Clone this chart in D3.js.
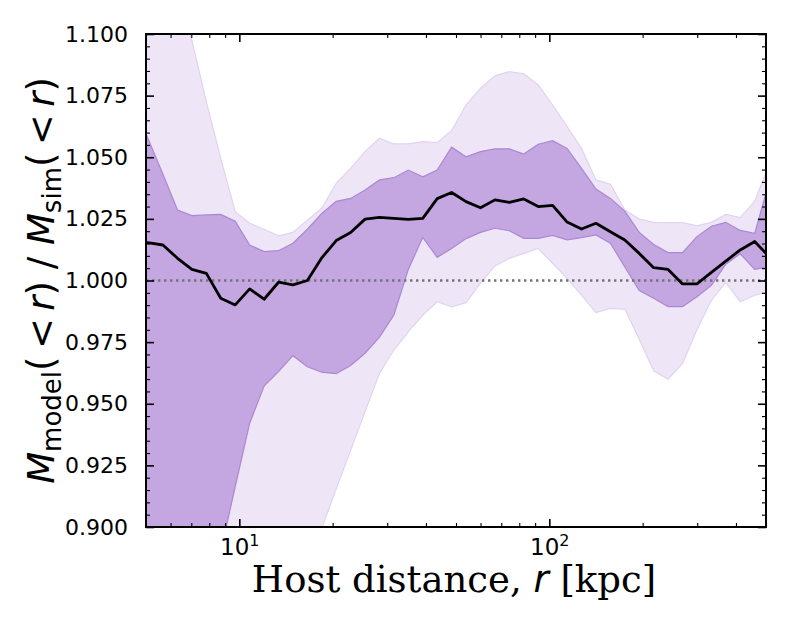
<!DOCTYPE html>
<html>
<head>
<meta charset="utf-8">
<script src="https://cdn.jsdelivr.net/npm/d3@7"></script>
<style>
body { margin: 0; background: #fff; }
</style>
</head>
<body>
<svg id="chart" width="789" height="631"></svg>
<script>
// host distance of each bin [kpc]
var radius = [5.0, 5.67, 6.32, 7.03, 7.83, 8.71, 9.70, 10.80, 12.02, 13.38, 14.89, 16.58,
    18.45, 20.54, 22.86, 25.45, 28.33, 31.52, 35.09, 39.06, 43.48, 48.40, 53.87, 59.98,
    66.76, 74.32, 82.72, 92.08, 102.5, 114.1, 127.0, 141.4, 157.4, 175.2, 195.0, 217.1,
    241.6, 269.0, 299.4, 333.3, 371.0, 413.0, 459.7, 511.7];

// median ratio M_model / M_sim
var ratioMid = [1.0155, 1.0144, 1.0090, 1.0045, 1.0029, 0.9928, 0.9901, 0.9966, 0.9924, 0.9993,
    0.9982, 1.0000, 1.0092, 1.0162, 1.0195, 1.0249, 1.0256, 1.0252, 1.0248, 1.0252, 1.0332,
    1.0357, 1.0320, 1.0295, 1.0327, 1.0317, 1.0331, 1.0300, 1.0305, 1.0237, 1.0209, 1.0232,
    1.0198, 1.0164, 1.0110, 1.0052, 1.0045, 0.9986, 0.9986, 1.0033, 1.0079, 1.0124, 1.0158,
    1.0097];

// inner band (dark)
var innerHi = [1.0595, 1.0431, 1.0286, 1.0263, 1.0266, 1.0268, 1.0241, 1.0144, 1.0117, 1.0121,
    1.0151, 1.0208, 1.0272, 1.0321, 1.0333, 1.0367, 1.0408, 1.0417, 1.0448, 1.0421, 1.0448,
    1.0541, 1.0502, 1.0523, 1.0534, 1.0534, 1.0513, 1.0553, 1.0567, 1.0536, 1.0455, 1.0371,
    1.0333, 1.0281, 1.0195, 1.0146, 1.0113, 1.0113, 1.0178, 1.0220, 1.0236, 1.0203, 1.0191,
    1.0400];
var innerLo = [0.800, 0.820, 0.840, 0.850, 0.860, 0.890, 0.9164, 0.9421, 0.9572, 0.9630,
    0.9695, 0.9650, 0.9628, 0.9622, 0.9655, 0.9705, 0.9770, 0.9860, 1.0045, 1.0175, 1.0094,
    1.0130, 1.0170, 1.0195, 1.0212, 1.0202, 1.0171, 1.0171, 1.0183, 1.0165, 1.0174, 1.0185,
    1.0151, 1.0055, 0.9959, 0.9928, 0.9894, 0.9894, 0.9934, 0.9980, 1.0066, 1.0108, 1.0045,
    1.0056];

// outer band (light)
var outerHi = [1.160, 1.140, 1.115, 1.0974, 1.0725, 1.0495, 1.0279, 1.0232, 1.0208, 1.0181,
    1.0195, 1.0245, 1.0293, 1.0394, 1.0455, 1.0523, 1.0577, 1.0554, 1.0554, 1.0563, 1.0559,
    1.0608, 1.0712, 1.0780, 1.0830, 1.0847, 1.0838, 1.0793, 1.0712, 1.0624, 1.0536, 1.0408,
    1.0390, 1.0286, 1.0249, 1.0236, 1.0235, 1.0235, 1.0222, 1.0236, 1.0268, 1.0255, 1.0322,
    1.0469];
var outerLo = [0.700, 0.720, 0.740, 0.760, 0.780, 0.800, 0.820, 0.836, 0.852, 0.868, 0.868,
    0.884, 0.8995, 0.9155, 0.9311, 0.9468, 0.9624, 0.9718, 0.9792, 0.9860, 0.9914, 0.9893,
    0.9910, 0.9989, 1.0059, 1.0090, 1.0110, 1.0130, 1.0070, 1.0009, 0.9941, 0.9870, 0.9887,
    0.9884, 0.9762, 0.9634, 0.9599, 0.9664, 0.9800, 0.9920, 0.9992, 0.9914, 0.9940, 0.9955];

var yMajor = [0.900, 0.925, 0.950, 0.975, 1.000, 1.025, 1.050, 1.075, 1.100];
var xMajor = [10, 100];
var xMinor = [5, 6, 7, 8, 9, 20, 30, 40, 50, 60, 70, 80, 90, 200, 300, 400, 500];

var padL = 146, padR = 766, padT = 34, padB = 527;

var svg = d3.select("#chart");

var x = d3.scaleLog().domain([5, 500]).range([padL, padR]);
var y = d3.scaleLinear().domain([0.9, 1.1]).range([padB, padT]);

var yMinor = d3.range(0.9, 1.1001, 0.005).filter(function (v) {
    return Math.abs(Math.round(v * 40) - v * 40) > 1e-6;
});

svg.append("defs").append("clipPath")
    .attr("id", "plotclip")
    .append("rect")
    .attr("x", padL).attr("y", padT)
    .attr("width", padR - padL).attr("height", padB - padT);

var rows = radius.map(function (r, i) {
    return {r: r, mid: ratioMid[i], ilo: innerLo[i], ihi: innerHi[i], olo: outerLo[i], ohi: outerHi[i]};
});

var plot = svg.append("g").attr("clip-path", "url(#plotclip)");

// outer band
plot.append("path")
    .datum(rows)
    .attr("fill", "#eee6f6")
    .attr("stroke", "#e1d3f0")
    .attr("stroke-width", 1.2)
    .attr("d", d3.area()
        .x(function (d) { return x(d.r); })
        .y0(function (d) { return y(d.olo); })
        .y1(function (d) { return y(d.ohi); }));

// inner band
plot.append("path")
    .datum(rows)
    .attr("fill", "#c4a6e0")
    .attr("stroke", "#aa88d5")
    .attr("stroke-width", 1.2)
    .attr("d", d3.area()
        .x(function (d) { return x(d.r); })
        .y0(function (d) { return y(d.ilo); })
        .y1(function (d) { return y(d.ihi); }));

// reference line at unity
plot.append("line")
    .attr("x1", padL).attr("x2", padR)
    .attr("y1", y(1)).attr("y2", y(1))
    .attr("stroke", "#737373")
    .attr("stroke-width", 2.4)
    .attr("stroke-dasharray", "2.4,3.6");

plot.append("path")
    .datum(rows)
    .attr("fill", "none")
    .attr("stroke", "#000")
    .attr("stroke-width", 2.8)
    .attr("stroke-linejoin", "round")
    .attr("d", d3.line()
        .x(function (d) { return x(d.r); })
        .y(function (d) { return y(d.mid); }));

// ticks, all pointing inward
function drawTicks(axisFn, scale, vals, size, pos) {
    var g = svg.append("g")
        .attr("transform", pos)
        .call(axisFn(scale).tickValues(vals).tickSize(-size).tickFormat(""));
    g.select(".domain").remove();
    g.selectAll(".tick line").attr("stroke", "#000").attr("stroke-width", size > 5 ? 1.6 : 1.1);
    return g;
}

drawTicks(d3.axisLeft, y, yMinor, 4, "translate(" + padL + ",0)");
drawTicks(d3.axisRight, y, yMinor, 4, "translate(" + padR + ",0)");
drawTicks(d3.axisRight, y, yMajor, 8, "translate(" + padR + ",0)");
drawTicks(d3.axisBottom, x, xMinor, 4, "translate(0," + padB + ")");
drawTicks(d3.axisTop, x, xMinor, 4, "translate(0," + padT + ")");
drawTicks(d3.axisTop, x, xMajor, 8, "translate(0," + padT + ")");

var yAxis = svg.append("g")
    .attr("transform", "translate(" + padL + ",0)")
    .call(d3.axisLeft(y).tickValues(yMajor).tickSize(-8).tickPadding(18)
        .tickFormat(d3.format(".3f")));
yAxis.select(".domain").remove();
yAxis.selectAll(".tick line").attr("stroke", "#000").attr("stroke-width", 1.6);
yAxis.selectAll(".tick text")
    .attr("fill", "#000")
    .style("font-family", "'DejaVu Sans', sans-serif")
    .style("font-size", "22px");

var xAxis = svg.append("g")
    .attr("transform", "translate(0," + padB + ")")
    .call(d3.axisBottom(x).tickValues(xMajor).tickSize(-8).tickFormat(""));
xAxis.select(".domain").remove();
xAxis.selectAll(".tick line").attr("stroke", "#000").attr("stroke-width", 1.6);
xAxis.selectAll(".tick").append("text")
    .attr("y", 28)
    .attr("text-anchor", "middle")
    .attr("fill", "#000")
    .style("font-family", "'DejaVu Sans', sans-serif")
    .style("font-size", "23px")
    .each(function (d) {
        var t = d3.select(this);
        t.append("tspan").text("10");
        t.append("tspan").attr("dy", -9).style("font-size", "16px")
            .text(Math.round(Math.log10(d)));
    });

// frame
svg.append("rect")
    .attr("x", padL).attr("y", padT)
    .attr("width", padR - padL).attr("height", padB - padT)
    .attr("fill", "none")
    .attr("stroke", "#000")
    .attr("stroke-width", 2);

// x label
var xl = svg.append("text")
    .attr("x", (padL + padR) / 2 - 2)
    .attr("y", 592)
    .attr("text-anchor", "middle")
    .style("font-family", "'DejaVu Serif', serif")
    .style("font-size", "37px");
xl.append("tspan").text("Host distance, ");
xl.append("tspan").style("font-family", "'DejaVu Sans', sans-serif").style("font-style", "italic").text("r");
xl.append("tspan").text(" [kpc]");

// y label
var yl = svg.append("text")
    .attr("transform", "translate(54," + ((padT + padB) / 2) + ") rotate(-90)")
    .attr("text-anchor", "middle")
    .style("font-family", "'DejaVu Sans', sans-serif")
    .style("font-size", "37px");
yl.append("tspan").style("font-style", "italic").text("M");
yl.append("tspan").attr("dy", 7).style("font-size", "26px").text("model");
yl.append("tspan").attr("dy", -7).text("(\u2009<\u2009");
yl.append("tspan").style("font-style", "italic").text("r");
yl.append("tspan").text(") / ");
yl.append("tspan").style("font-style", "italic").text("M");
yl.append("tspan").attr("dy", 7).style("font-size", "26px").text("sim");
yl.append("tspan").attr("dy", -7).text("(\u2009<\u2009");
yl.append("tspan").style("font-style", "italic").text("r");
yl.append("tspan").text(")");
</script>
</body>
</html>
